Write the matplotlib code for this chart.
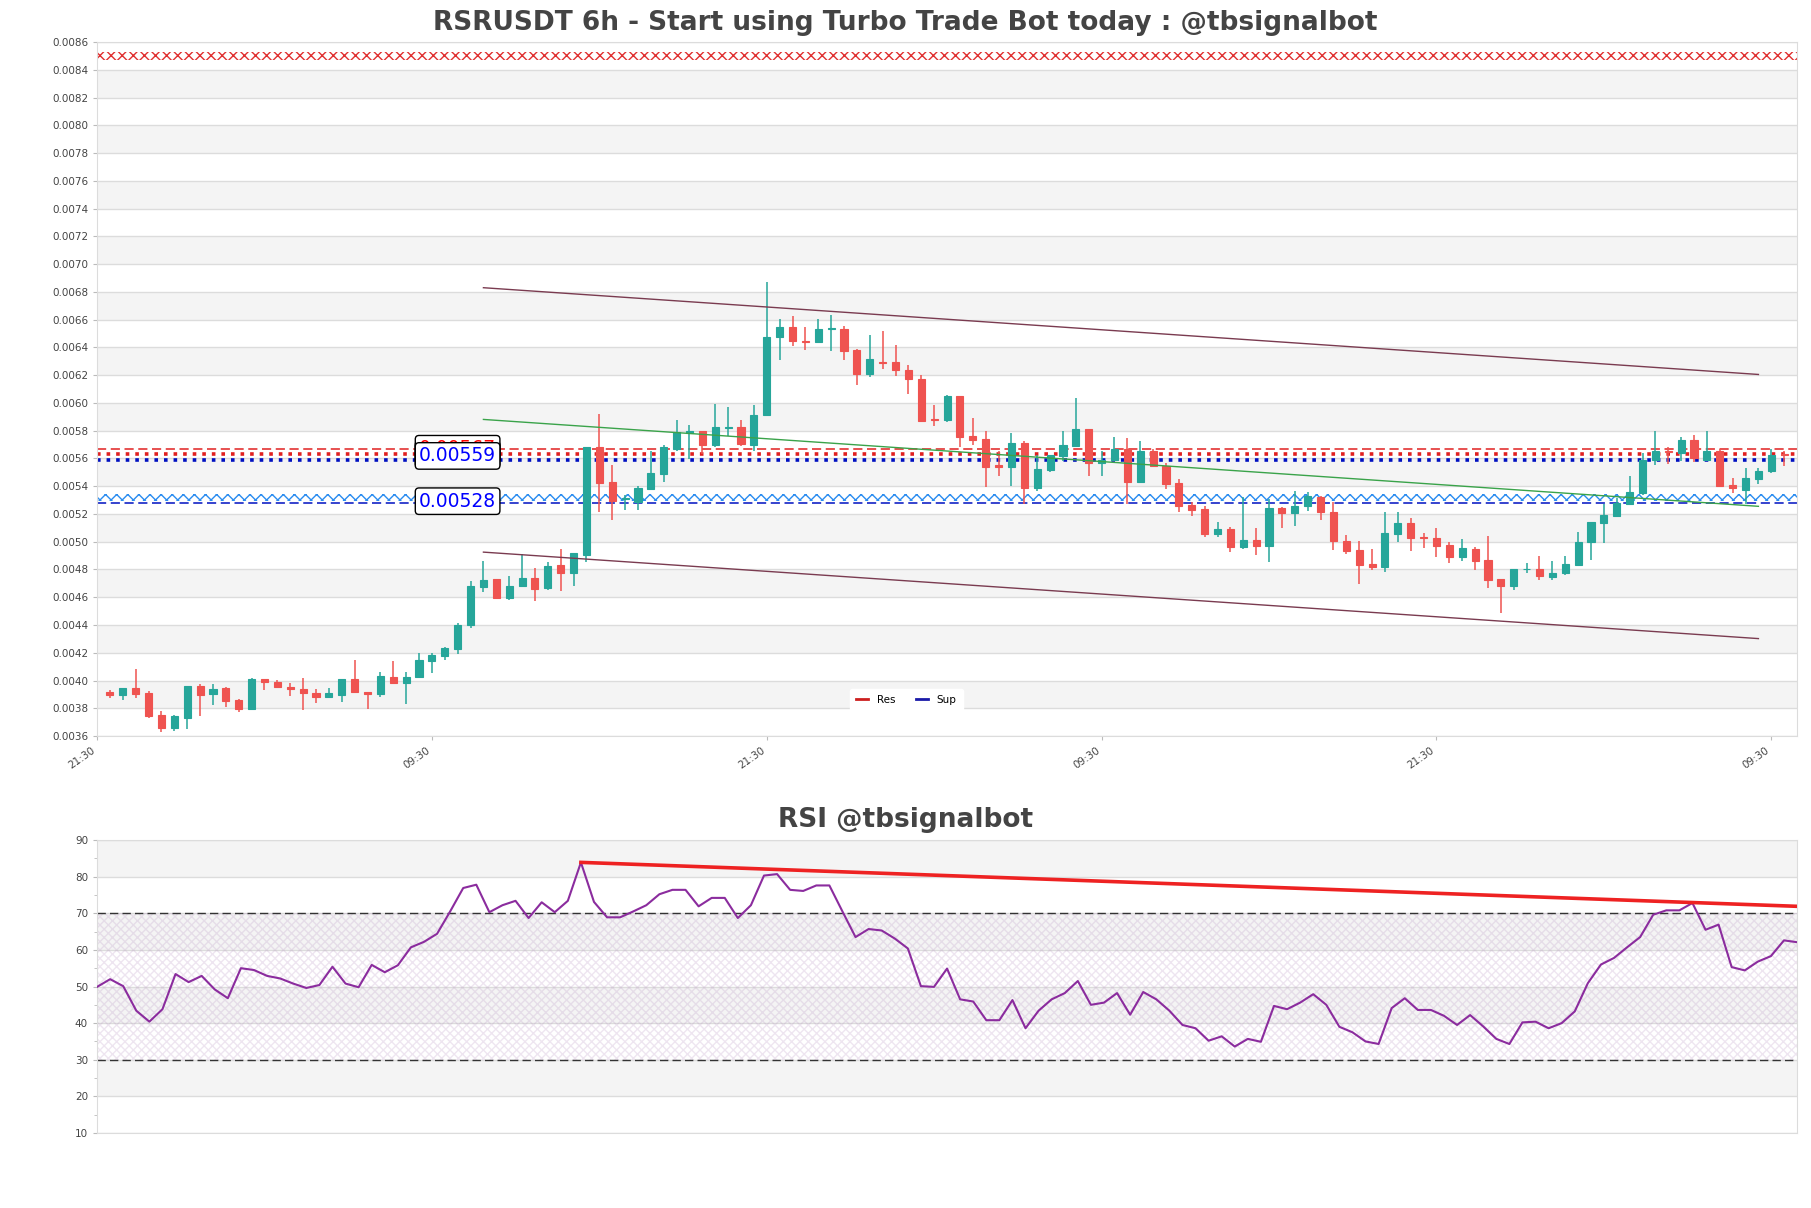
import numpy as np
import matplotlib
matplotlib.use("Agg")
import matplotlib.pyplot as plt
from matplotlib.lines import Line2D

# candle data (6h)
opens = [
    0.003918, 0.003894, 0.003949, 0.003908, 0.003749, 0.003660, 0.003732, 0.003961, 0.003900, 0.003949,
    0.003860, 0.003797, 0.004009, 0.003992, 0.003951, 0.003942, 0.003913, 0.003884, 0.003894, 0.004009,
    0.003920, 0.003900, 0.004028, 0.003985, 0.004028, 0.004141, 0.004177, 0.004226, 0.004399, 0.004671,
    0.004731, 0.004598, 0.004683, 0.004736, 0.004663, 0.004832, 0.004774, 0.004904, 0.005681, 0.005429,
    0.005310, 0.005284, 0.005381, 0.005491, 0.005669, 0.005782, 0.005797, 0.005700, 0.005821, 0.005826,
    0.005700, 0.005910, 0.006475, 0.006547, 0.006446, 0.006439, 0.006530, 0.006535, 0.006379, 0.006210,
    0.006297, 0.006295, 0.006239, 0.006174, 0.005882, 0.005875, 0.006049, 0.005760, 0.005741, 0.005553,
    0.005541, 0.005712, 0.005385, 0.005520, 0.005621, 0.005693, 0.005809, 0.005566, 0.005590, 0.005669,
    0.005433, 0.005650, 0.005549, 0.005421, 0.005265, 0.005236, 0.005056, 0.005092, 0.004959, 0.005015,
    0.004971, 0.005241, 0.005207, 0.005255, 0.005320, 0.005217, 0.005008, 0.004940, 0.004839, 0.004815,
    0.005056, 0.005135, 0.005034, 0.005024, 0.004976, 0.004887, 0.004947, 0.004868, 0.004731, 0.004678,
    0.004800, 0.004803, 0.004743, 0.004774, 0.004832, 0.005000, 0.005135, 0.005183, 0.005272, 0.005352,
    0.005592, 0.005652, 0.005640, 0.005734, 0.005592, 0.005657, 0.005409, 0.005376, 0.005453, 0.005506,
    0.005633]
closes = [
    0.003894, 0.003949, 0.003900, 0.003744, 0.003660, 0.003744, 0.003961, 0.003894, 0.003942, 0.003853,
    0.003792, 0.004009, 0.003990, 0.003954, 0.003942, 0.003908, 0.003884, 0.003908, 0.004009, 0.003918,
    0.003906, 0.004033, 0.003985, 0.004028, 0.004149, 0.004182, 0.004233, 0.004399, 0.004678, 0.004724,
    0.004598, 0.004683, 0.004736, 0.004659, 0.004827, 0.004774, 0.004918, 0.005681, 0.005424, 0.005296,
    0.005317, 0.005388, 0.005496, 0.005681, 0.005790, 0.005797, 0.005700, 0.005826, 0.005826, 0.005705,
    0.005910, 0.006475, 0.006547, 0.006446, 0.006439, 0.006535, 0.006537, 0.006372, 0.006210, 0.006314,
    0.006290, 0.006234, 0.006169, 0.005873, 0.005874, 0.006049, 0.005758, 0.005736, 0.005541, 0.005541,
    0.005712, 0.005385, 0.005525, 0.005628, 0.005698, 0.005814, 0.005566, 0.005590, 0.005669, 0.005433,
    0.005650, 0.005549, 0.005417, 0.005260, 0.005231, 0.005056, 0.005092, 0.004959, 0.005015, 0.004971,
    0.005241, 0.005207, 0.005255, 0.005328, 0.005217, 0.005008, 0.004935, 0.004832, 0.004815, 0.005063,
    0.005135, 0.005024, 0.005027, 0.004967, 0.004887, 0.004952, 0.004863, 0.004726, 0.004678, 0.004803,
    0.004806, 0.004750, 0.004774, 0.004839, 0.005000, 0.005145, 0.005193, 0.005279, 0.005361, 0.005592,
    0.005650, 0.005645, 0.005734, 0.005602, 0.005650, 0.005405, 0.005385, 0.005457, 0.005506, 0.005628,
    0.005626]
highs = [
    0.003932, 0.003949, 0.004081, 0.003925, 0.003780, 0.003749, 0.003961, 0.003978, 0.003978, 0.003956,
    0.003865, 0.004021, 0.004009, 0.004004, 0.003985, 0.004021, 0.003942, 0.003949, 0.004009, 0.004149,
    0.003920, 0.004064, 0.004137, 0.004064, 0.004201, 0.004201, 0.004238, 0.004413, 0.004714, 0.004858,
    0.004731, 0.004755, 0.004911, 0.004808, 0.004851, 0.004947, 0.004918, 0.005681, 0.005917, 0.005554,
    0.005337, 0.005400, 0.005657, 0.005698, 0.005879, 0.005838, 0.005801, 0.005994, 0.005970, 0.005879,
    0.005982, 0.006872, 0.006607, 0.006627, 0.006547, 0.006607, 0.006637, 0.006555, 0.006386, 0.006492,
    0.006516, 0.006420, 0.006271, 0.006203, 0.005982, 0.006054, 0.006049, 0.005889, 0.005801, 0.005657,
    0.005785, 0.005724, 0.005628, 0.005628, 0.005801, 0.006035, 0.005814, 0.005650, 0.005753, 0.005746,
    0.005729, 0.005669, 0.005568, 0.005453, 0.005289, 0.005255, 0.005145, 0.005104, 0.005320, 0.005097,
    0.005308, 0.005248, 0.005368, 0.005361, 0.005332, 0.005289, 0.005048, 0.005008, 0.004947, 0.005217,
    0.005212, 0.005169, 0.005063, 0.005097, 0.004995, 0.005020, 0.004959, 0.005044, 0.004731, 0.004803,
    0.004846, 0.004894, 0.004863, 0.004894, 0.005072, 0.005145, 0.005272, 0.005313, 0.005477, 0.005640,
    0.005797, 0.005681, 0.005758, 0.005770, 0.005797, 0.005669, 0.005457, 0.005530, 0.005530, 0.005669,
    0.005650]
lows = [
    0.003877, 0.003860, 0.003877, 0.003732, 0.003629, 0.003636, 0.003653, 0.003744, 0.003821, 0.003812,
    0.003773, 0.003792, 0.003932, 0.003946, 0.003889, 0.003788, 0.003841, 0.003877, 0.003845, 0.003918,
    0.003797, 0.003884, 0.003985, 0.003829, 0.004028, 0.004052, 0.004149, 0.004190, 0.004375, 0.004639,
    0.004598, 0.004579, 0.004671, 0.004574, 0.004654, 0.004647, 0.004683, 0.004856, 0.005217, 0.005159,
    0.005231, 0.005231, 0.005376, 0.005429, 0.005657, 0.005597, 0.005633, 0.005681, 0.005765, 0.005693,
    0.005657, 0.005910, 0.006311, 0.006407, 0.006380, 0.006431, 0.006374, 0.006311, 0.006126, 0.006186,
    0.006242, 0.006193, 0.006066, 0.005865, 0.005834, 0.005865, 0.005681, 0.005700, 0.005396, 0.005472,
    0.005400, 0.005272, 0.005368, 0.005500, 0.005585, 0.005681, 0.005472, 0.005477, 0.005578, 0.005272,
    0.005429, 0.005537, 0.005380, 0.005212, 0.005188, 0.005032, 0.005032, 0.004928, 0.004947, 0.004904,
    0.004856, 0.005097, 0.005111, 0.005224, 0.005159, 0.004943, 0.004911, 0.004695, 0.004798, 0.004779,
    0.005000, 0.004935, 0.004952, 0.004887, 0.004846, 0.004863, 0.004798, 0.004663, 0.004483, 0.004654,
    0.004774, 0.004726, 0.004726, 0.004760, 0.004832, 0.004870, 0.004991, 0.005176, 0.005265, 0.005337,
    0.005554, 0.005561, 0.005585, 0.005573, 0.005592, 0.005393, 0.005352, 0.005272, 0.005417, 0.005496,
    0.005544]

rsi = [
    49.9, 52.0, 50.1, 43.4, 40.4, 43.8, 53.4, 51.2, 52.9, 49.2,
    46.8, 55.0, 54.5, 52.9, 52.2, 50.8, 49.6, 50.4, 55.4, 50.8,
    49.8, 55.9, 53.9, 55.8, 60.7, 62.2, 64.4, 70.5, 76.9, 77.8,
    70.3, 72.2, 73.4, 68.7, 73.0, 70.3, 73.4, 83.9, 73.1, 68.9,
    68.9, 70.5, 72.2, 75.2, 76.4, 76.4, 71.9, 74.2, 74.2, 68.7,
    72.2, 80.3, 80.7, 76.4, 76.1, 77.6, 77.6, 70.5, 63.5, 65.7,
    65.3, 63.1, 60.4, 50.1, 49.9, 54.9, 46.5, 45.9, 40.8, 40.8,
    46.3, 38.6, 43.4, 46.5, 48.2, 51.5, 45.0, 45.6, 48.2, 42.3,
    48.5, 46.5, 43.4, 39.5, 38.6, 35.2, 36.4, 33.6, 35.7, 34.9,
    44.7, 43.8, 45.6, 47.9, 45.0, 39.0, 37.5, 35.0, 34.3, 44.1,
    46.8, 43.6, 43.6, 42.0, 39.5, 42.2, 39.1, 35.7, 34.3, 40.2,
    40.4, 38.6, 40.0, 43.2, 50.9, 56.0, 57.8, 60.7, 63.5, 69.6,
    70.8, 70.8, 72.8, 65.5, 66.9, 55.3, 54.4, 56.8, 58.3, 62.6,
    62.1]

tick_pos = [-1, 25, 51, 77, 103, 129]
tick_labels = ["21:30", "09:30", "21:30", "09:30", "21:30", "09:30"]

res_levels = [0.00567, 0.00563]
sup_levels = [0.00559, 0.00528]
res_zone = 0.00850
sup_zone = 0.00532

# channel + trend lines: (x0, y0, x1, y1)
chan_upper = (29, 0.006830, 128, 0.006205)
chan_lower = (29, 0.004925, 128, 0.004302)
trend_mid = (29, 0.005881, 128, 0.005255)
rsi_trend = (37, 83.9, 130, 71.9)

UP = "#26a69a"
DOWN = "#ef5350"
BAND = "#f4f4f4"
GRID = "#dcdcdc"
TXT = "#444444"

fig = plt.figure(figsize=(18.11, 12.08), dpi=100)
ax = fig.add_axes([0.0536, 0.3907, 0.9387, 0.5745])
rax = fig.add_axes([0.0536, 0.0621, 0.9387, 0.2425])

n = len(opens)
x = np.arange(n)
o = np.array(opens); c = np.array(closes)
h = np.array(highs); l = np.array(lows)
up = c >= o
cols = np.where(up, UP, DOWN)

# background bands
yt = np.arange(0.0036, 0.00861, 0.0002)
for k in range(len(yt) - 1):
    if k % 2 == 1:
        ax.axhspan(yt[k], yt[k + 1], color=BAND, zorder=0, lw=0)
for v in yt:
    ax.axhline(v, color=GRID, lw=1, zorder=0.5)

ax.vlines(x, l, h, colors=cols, lw=1.1, zorder=3)
ax.bar(x, np.abs(c - o), bottom=np.minimum(o, c), width=0.55, color=cols,
       edgecolor=cols, lw=0.8, zorder=4)

# S/R lines
ax.axhspan(res_zone - 0.000028, res_zone + 0.000028, facecolor="none",
           edgecolor="#e03030", hatch="xxx", lw=0, zorder=2)
ax.axhspan(sup_zone - 0.000026, sup_zone + 0.000026, facecolor="none",
           edgecolor="#2a8cf0", hatch="xxx", lw=0, zorder=2)
ax.axhline(res_levels[0], color="#e02020", ls=(0, (6, 3)), lw=1.1, zorder=2)
ax.axhline(res_levels[1], color="#e02020", ls=":", lw=2.6, zorder=2)
ax.axhline(sup_levels[0], color="#0010c0", ls=":", lw=2.6, zorder=2)
ax.axhline(sup_levels[1], color="#0010c0", ls=(0, (6, 3)), lw=1.1, zorder=2)

ax.plot(chan_upper[::2], chan_upper[1::2], color="#7a3b50", lw=1.0, zorder=5)
ax.plot(chan_lower[::2], chan_lower[1::2], color="#7a3b50", lw=1.0, zorder=5)
ax.plot(trend_mid[::2], trend_mid[1::2], color="#3aa34a", lw=1.0, zorder=5)

# level labels (later ones sit on top)
box = dict(boxstyle="round,pad=0.2", fc="white", ec="black", lw=1)
for val, col, dy in [(res_levels[1], "red", 0.0), (res_levels[0], "red", 0.0),
                     (sup_levels[0], "blue", 0.000028), (sup_levels[1], "blue", 0.000012)]:
    ax.text(24, val + dy, f"{val:.5f}", color=col, fontsize=13.5, ha="left",
            va="center", bbox=box, zorder=8)

handles = [Line2D([], [], color="#cc1f1f", lw=2), Line2D([], [], color="#1a1aa8", lw=2)]
leg = ax.legend(handles, ["Res", "Sup"], loc="lower center", ncol=2,
                bbox_to_anchor=(0.476, 0.028), fontsize=7.5, frameon=True,
                handlelength=1.2, columnspacing=2.0, borderpad=0.6)
leg.get_frame().set_edgecolor("white")
leg.get_frame().set_facecolor("white")
leg.get_frame().set_alpha(1)

ax.set_xlim(-1, n)
ax.set_ylim(0.0036, 0.0086)
ax.set_yticks(yt)
ax.set_yticklabels([f"{v:.4f}" for v in yt], fontsize=7.5, color=TXT)
ax.set_xticks(tick_pos)
ax.set_xticklabels(tick_labels, fontsize=7.5, color=TXT, rotation=35, ha="right")
ax.tick_params(length=3, color="#bbbbbb")
for s in ax.spines.values():
    s.set_color(GRID)

# RSI panel
for lo in (20, 40, 60, 80):
    rax.axhspan(lo, lo + 10, color=BAND, zorder=0, lw=0)
for v in range(10, 91, 10):
    rax.axhline(v, color=GRID, lw=1, zorder=0.5)
rax.axhspan(30, 70, facecolor="none", edgecolor=(0.7, 0.55, 0.75, 0.22),
            hatch="xxxx", lw=0, zorder=1)
rax.axhline(70, color="#333333", ls=(0, (6, 3)), lw=1, zorder=2)
rax.axhline(30, color="#333333", ls=(0, (6, 3)), lw=1, zorder=2)
rax.plot(x, rsi, color="#8b2c9e", lw=1.5, zorder=4)
rax.plot(rsi_trend[::2], rsi_trend[1::2], color="#ee2222", lw=2.6, zorder=5)

rax.set_xlim(0, n - 1)
rax.set_ylim(10, 90)
rax.set_yticks(range(10, 91, 10))
rax.set_yticks(range(15, 90, 10), minor=True)
rax.set_yticklabels([str(v) for v in range(10, 91, 10)], fontsize=7.5, color=TXT)
rax.set_xticks([])
rax.tick_params(axis="y", which="major", length=3, color="#bbbbbb")
rax.tick_params(axis="y", which="minor", length=2, color="#bbbbbb")
for s in rax.spines.values():
    s.set_color(GRID)

fig.text(0.5, 0.981, "RSRUSDT 6h - Start using Turbo Trade Bot today : @tbsignalbot",
         ha="center", va="center", fontsize=19, fontweight="bold", color=TXT)
fig.text(0.5, 0.321, "RSI @tbsignalbot", ha="center", va="center",
         fontsize=19, fontweight="bold", color=TXT)

fig.savefig("out.png", dpi=100)
